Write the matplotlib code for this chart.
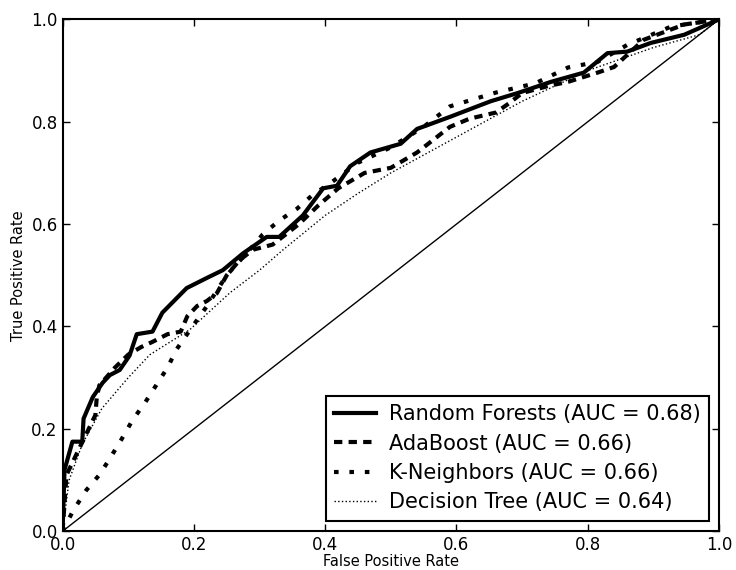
import matplotlib
matplotlib.use("Agg")
import matplotlib.pyplot as plt

# ROC points
rf_fpr = [0, 0.003, 0.015, 0.03, 0.032, 0.046, 0.061, 0.072, 0.087, 0.102, 0.113, 0.137, 0.152,
          0.189, 0.22, 0.244, 0.275, 0.311, 0.33, 0.366, 0.397, 0.418, 0.438, 0.469, 0.515, 0.54,
          0.591, 0.652, 0.693, 0.744, 0.794, 0.83, 0.86, 0.896, 0.947, 1.0]
rf_tpr = [0, 0.12, 0.175, 0.175, 0.22, 0.262, 0.29, 0.305, 0.315, 0.343, 0.385, 0.39, 0.427,
          0.475, 0.495, 0.51, 0.543, 0.575, 0.575, 0.617, 0.67, 0.675, 0.713, 0.74, 0.757, 0.786,
          0.81, 0.84, 0.856, 0.878, 0.896, 0.934, 0.937, 0.954, 0.97, 1.0]

ada_fpr = [0, 0.006, 0.05, 0.052, 0.056, 0.08, 0.1, 0.12, 0.137, 0.16, 0.18, 0.19, 0.205, 0.22,
           0.235, 0.25, 0.27, 0.29, 0.32, 0.36, 0.39, 0.42, 0.46, 0.5, 0.54, 0.59, 0.62, 0.66,
           0.68, 0.70, 0.74, 0.77, 0.815, 0.84, 0.885, 0.92, 0.947, 1.0]
ada_tpr = [0, 0.11, 0.227, 0.26, 0.285, 0.32, 0.345, 0.36, 0.37, 0.385, 0.39, 0.42, 0.44, 0.45,
           0.465, 0.5, 0.53, 0.55, 0.56, 0.6, 0.637, 0.67, 0.70, 0.71, 0.74, 0.79, 0.806, 0.818,
           0.836, 0.856, 0.87, 0.878, 0.896, 0.907, 0.96, 0.977, 0.99, 1.0]

kn_fpr = [0, 0.016, 0.036, 0.056, 0.072, 0.09, 0.107, 0.125, 0.143, 0.16, 0.174, 0.194, 0.22,
          0.25, 0.285, 0.305, 0.33, 0.357, 0.38, 0.41, 0.45, 0.5, 0.55, 0.59, 0.66, 0.72, 0.77,
          0.815, 0.86, 0.927, 1.0]
kn_tpr = [0, 0.04, 0.08, 0.11, 0.142, 0.18, 0.218, 0.25, 0.286, 0.32, 0.356, 0.393, 0.44,
          0.5, 0.55, 0.58, 0.607, 0.63, 0.656, 0.682, 0.72, 0.75, 0.79, 0.83, 0.857, 0.875, 0.906,
          0.917, 0.95, 0.986, 1.0]

dt_fpr = [0, 0.01, 0.03, 0.06, 0.1, 0.133, 0.194, 0.255, 0.3, 0.336, 0.4, 0.45, 0.5, 0.6, 0.7,
          0.8, 0.9, 0.97, 1.0]
dt_tpr = [0, 0.1, 0.17, 0.24, 0.3, 0.345, 0.394, 0.466, 0.51, 0.55, 0.617, 0.66, 0.70, 0.77,
          0.84, 0.9, 0.945, 0.97, 1.0]

labels = ["Random Forests (AUC = 0.68)", "AdaBoost (AUC = 0.66)",
          "K-Neighbors (AUC = 0.66)", "Decision Tree (AUC = 0.64)"]
ticks = [0.0, 0.2, 0.4, 0.6, 0.8, 1.0]


def main():
    fig = plt.figure(figsize=(7.36, 5.7), dpi=100)
    ax = fig.add_axes([0.085, 0.068, 0.892, 0.898])

    ax.plot([0, 1], [0, 1], color='black', lw=1)
    ax.plot(rf_fpr, rf_tpr, color='black', lw=3, label=labels[0])
    ax.plot(ada_fpr, ada_tpr, color='black', lw=3, linestyle=(0, (2, 1.5)), label=labels[1])
    ax.plot(kn_fpr, kn_tpr, color='black', lw=3, linestyle=(0, (1.1, 2.6)), label=labels[2])
    ax.plot(dt_fpr, dt_tpr, color='black', lw=1, linestyle=':', label=labels[3])

    ax.set_xlim(0, 1)
    ax.set_ylim(0, 1)
    ax.set_xticks(ticks)
    ax.set_yticks(ticks)
    ax.set_xticklabels(["%.1f" % t for t in ticks])
    ax.set_yticklabels(["%.1f" % t for t in ticks])
    ax.tick_params(direction='in', top=True, right=True, labelsize=12, length=5, width=1)
    for s in ax.spines.values():
        s.set_linewidth(1.5)

    ax.set_xlabel('False Positive Rate', fontsize=10.5, labelpad=0)
    ax.set_ylabel('True Positive Rate', fontsize=10.5, labelpad=4)

    leg = ax.legend(loc='lower right', fontsize=15, fancybox=False, framealpha=1,
                    edgecolor='black', handlelength=2, handletextpad=0.6,
                    labelspacing=0.45, borderpad=0.4)
    leg.get_frame().set_linewidth(1.5)

    fig.savefig('out.png', dpi=100)


if __name__ == "__main__":
    main()
